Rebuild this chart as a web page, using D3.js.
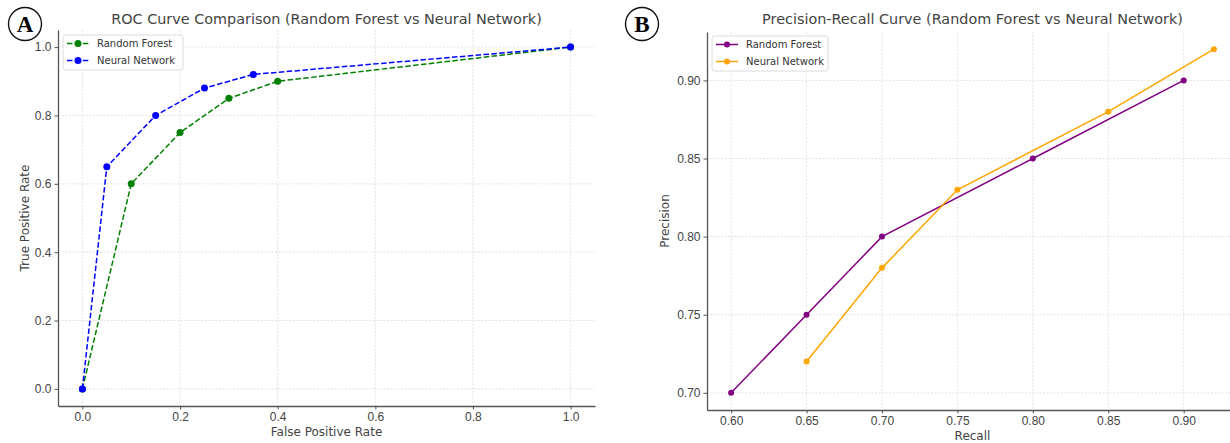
<!DOCTYPE html>
<html>
<head>
  <meta charset="utf-8">
  <title>ROC and Precision-Recall Curves</title>
  <script src="https://d3js.org/d3.v7.min.js"></script>
  <style>
    body { margin: 0; background: #fff; }
    svg { display: block; font-family: "DejaVu Sans", sans-serif; }
    .tick text { font-size: 12px; fill: #444; }
    .tick line { stroke: #555; }
    .domain { stroke: #555; stroke-width: 1.3px; }
    .grid line { stroke: #dcdcdc; stroke-width: 0.8px; stroke-dasharray: 2,1.5; }
    .title { font-size: 14.4px; fill: #444; text-anchor: middle; }
    .axis-label { font-size: 12px; fill: #444; text-anchor: middle; }
    .legend text { font-size: 10px; fill: #333; }
    .panel-letter { font-family: "Liberation Serif", serif; font-weight: bold; font-size: 23px; text-anchor: middle; }
  </style>
</head>
<body>
  <svg width="1230" height="443"></svg>
  <script>
    // ROC data
    const rfFpr = [0, 0.1, 0.2, 0.3, 0.4, 1.0];
    const rfTpr = [0, 0.6, 0.75, 0.85, 0.90, 1.0];
    const nnFpr = [0, 0.05, 0.15, 0.25, 0.35, 1.0];
    const nnTpr = [0, 0.65, 0.80, 0.88, 0.92, 1.0];

    // Precision-Recall data
    const rfRecall = [0.60, 0.65, 0.70, 0.80, 0.90];
    const rfPrecision = [0.70, 0.75, 0.80, 0.85, 0.90];
    const nnRecall = [0.65, 0.70, 0.75, 0.85, 0.92];
    const nnPrecision = [0.72, 0.78, 0.83, 0.88, 0.92];

    const rocTicks = [0, 0.2, 0.4, 0.6, 0.8, 1.0];
    const prXTicks = [0.60, 0.65, 0.70, 0.75, 0.80, 0.85, 0.90];
    const prYTicks = [0.70, 0.75, 0.80, 0.85, 0.90];

    const svg = d3.select("svg");

    // matplotlib-like 5% margins around the data
    function padded(values) {
      const [lo, hi] = d3.extent(values);
      const m = (hi - lo) * 0.05;
      return [lo - m, hi + m];
    }

    function zip(xs, ys) {
      return xs.map((x, i) => ({ x: x, y: ys[i] }));
    }

    function drawPanel(opts) {
      const x = d3.scaleLinear().domain(padded(opts.allX)).range([opts.left, opts.right]);
      const y = d3.scaleLinear().domain(padded(opts.allY)).range([opts.bottom, opts.top]);
      const g = svg.append("g");

      // grid
      const grid = g.append("g").attr("class", "grid");
      grid.selectAll(".gx").data(opts.xTicks).join("line")
        .attr("x1", d => x(d)).attr("x2", d => x(d))
        .attr("y1", opts.top).attr("y2", opts.bottom);
      grid.selectAll(".gy").data(opts.yTicks).join("line")
        .attr("y1", d => y(d)).attr("y2", d => y(d))
        .attr("x1", opts.left).attr("x2", opts.right);

      // axes (left and bottom spines only)
      g.append("g")
        .attr("transform", `translate(0,${opts.bottom})`)
        .call(d3.axisBottom(x).tickValues(opts.xTicks).tickFormat(d3.format(opts.fmt))
          .tickSize(3.5).tickSizeOuter(0).tickPadding(3));
      g.append("g")
        .attr("transform", `translate(${opts.left},0)`)
        .call(d3.axisLeft(y).tickValues(opts.yTicks).tickFormat(d3.format(opts.fmt))
          .tickSize(3.5).tickSizeOuter(0).tickPadding(3));

      // series
      const line = d3.line().x(d => x(d.x)).y(d => y(d.y));
      opts.series.forEach(s => {
        g.append("path")
          .datum(s.points)
          .attr("fill", "none")
          .attr("stroke", s.color)
          .attr("stroke-width", 1.5)
          .attr("stroke-dasharray", opts.dash || null)
          .attr("d", line);
        g.selectAll(null).data(s.points).join("circle")
          .attr("cx", d => x(d.x)).attr("cy", d => y(d.y))
          .attr("r", opts.markerR)
          .attr("fill", s.color);
      });

      // title and labels
      g.append("text").attr("class", "title")
        .attr("x", (opts.left + opts.right) / 2).attr("y", 24)
        .text(opts.title);
      g.append("text").attr("class", "axis-label")
        .attr("x", (opts.left + opts.right) / 2).attr("y", opts.xLabelY)
        .text(opts.xLabel);
      g.append("text").attr("class", "axis-label")
        .attr("transform", `translate(${opts.yLabelX},${(opts.top + opts.bottom) / 2}) rotate(-90)`)
        .attr("dy", "0.35em")
        .text(opts.yLabel);

      // legend
      const lg = g.append("g").attr("class", "legend")
        .attr("transform", `translate(${opts.legend[0]},${opts.legend[1]})`);
      lg.append("rect")
        .attr("width", opts.legend[2]).attr("height", 35)
        .attr("rx", 2.5)
        .attr("fill", "#fff").attr("fill-opacity", 0.8)
        .attr("stroke", "#dcdcdc");
      opts.series.forEach((s, i) => {
        const yy = 8.5 + i * 17;
        lg.append("line")
          .attr("x1", 4).attr("x2", 26).attr("y1", yy).attr("y2", yy)
          .attr("stroke", s.color).attr("stroke-width", 1.5)
          .attr("stroke-dasharray", opts.dash || null);
        lg.append("circle").attr("cx", 15).attr("cy", yy).attr("r", opts.markerR).attr("fill", s.color);
        lg.append("text").attr("x", 34).attr("y", yy).attr("dy", "0.35em").text(s.name);
      });

      // panel letter
      svg.append("circle")
        .attr("cx", opts.letter[0]).attr("cy", opts.letter[1]).attr("r", 16.5)
        .attr("fill", "none").attr("stroke", "#111").attr("stroke-width", 1.4);
      svg.append("text").attr("class", "panel-letter")
        .attr("x", opts.letter[0]).attr("y", opts.letter[1]).attr("dy", "0.34em")
        .text(opts.letterText);
    }

    drawPanel({
      left: 58, right: 595, top: 30, bottom: 406,
      allX: rfFpr.concat(nnFpr), allY: rfTpr.concat(nnTpr),
      xTicks: rocTicks, yTicks: rocTicks, fmt: ".1f",
      dash: "5.5,2.4", markerR: 3.5,
      series: [
        { name: "Random Forest", color: "#008000", points: zip(rfFpr, rfTpr) },
        { name: "Neural Network", color: "#0000ff", points: zip(nnFpr, nnTpr) }
      ],
      title: "ROC Curve Comparison (Random Forest vs Neural Network)",
      xLabel: "False Positive Rate", yLabel: "True Positive Rate",
      xLabelY: 436, yLabelX: 25,
      legend: [63, 35, 120],
      letter: [25, 24], letterText: "A"
    });

    drawPanel({
      left: 707, right: 1238, top: 32, bottom: 410,
      allX: rfRecall.concat(nnRecall), allY: rfPrecision.concat(nnPrecision),
      xTicks: prXTicks, yTicks: prYTicks, fmt: ".2f",
      dash: null, markerR: 3,
      series: [
        { name: "Random Forest", color: "#800080", points: zip(rfRecall, rfPrecision) },
        { name: "Neural Network", color: "#FFA500", points: zip(nnRecall, nnPrecision) }
      ],
      title: "Precision-Recall Curve (Random Forest vs Neural Network)",
      xLabel: "Recall", yLabel: "Precision",
      xLabelY: 440, yLabelX: 665,
      legend: [712, 36, 116],
      letter: [642, 24], letterText: "B"
    });
  </script>
</body>
</html>
